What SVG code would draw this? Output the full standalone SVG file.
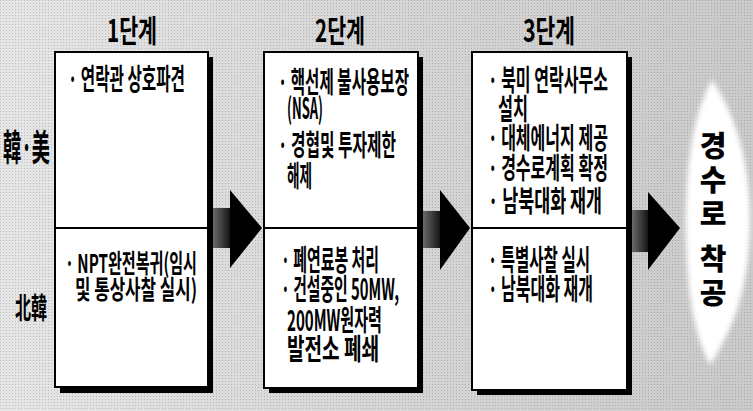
<svg xmlns="http://www.w3.org/2000/svg" width="753" height="411" viewBox="0 0 753 411">
<style>
.bg{fill:url(#bgGrad)}
.shadow{fill:#000}
.box{fill:#fff;stroke:#000;stroke-width:2}
.div{stroke:#000;stroke-width:2}
.t{font-family:"Noto Sans CJK KR","Liberation Sans",sans-serif;font-weight:700;fill:#000}
.s29{font-size:29px}
.s26{font-size:26px}
.ttl{font-size:31px}
.goal{font-family:"Noto Sans CJK KR","Liberation Sans",sans-serif;font-weight:900;font-size:29px;fill:#000;writing-mode:vertical-rl;letter-spacing:5px}
.arrowHead{fill:#000}
.arrowBody{fill:url(#bodyGrad)}
</style>
<defs>
<linearGradient id="bgGrad" x1="0" y1="0" x2="1" y2="0">
<stop offset="0" stop-color="#e6e6e6"/>
<stop offset="0.5" stop-color="#d6d6d6"/>
<stop offset="1" stop-color="#cacaca"/>
</linearGradient>
<linearGradient id="bodyGrad" x1="0" y1="0" x2="1" y2="0">
<stop offset="0" stop-color="#6a6a6a"/>
<stop offset="1" stop-color="#111"/>
</linearGradient>
<pattern id="dots" width="3" height="3" patternUnits="userSpaceOnUse">
<rect x="0" y="0" width="1" height="1" fill="#6a6a6a"/>
</pattern>
<filter id="soft" x="-20%" y="-10%" width="140%" height="120%">
<feGaussianBlur stdDeviation="2.5"/>
</filter>
</defs>
<rect class="bg" x="0" y="0" width="753" height="411"/>
<rect x="0" y="0" width="753" height="411" fill="url(#dots)" opacity="0.35"/>

<g id="goal">
<path d="M712,80 C734,112 750,160 750,220 C750,290 732,330 710,365 C692,330 686,285 686,220 C686,160 694,112 712,80 Z" fill="#fff" filter="url(#soft)"/>
<text class="goal" x="713" y="131">경수로 착공</text>
</g>

<g id="labels">
<text class="t" x="3" y="161" font-size="36" textLength="47" lengthAdjust="spacingAndGlyphs">韓·美</text>
<text class="t" x="15" y="319" font-size="29" textLength="32" lengthAdjust="spacingAndGlyphs">北韓</text>
</g>

<g id="stage1">
<text class="t ttl" x="107" y="42" textLength="50" lengthAdjust="spacingAndGlyphs">1단계</text>
<rect class="shadow" x="60" y="57" width="153" height="336"/>
<rect class="box" x="55" y="52" width="153" height="335"/>
<line class="div" x1="55" y1="228" x2="208" y2="228"/>
<text class="t s29" x="68" y="90" textLength="117" lengthAdjust="spacingAndGlyphs">· 연락관 상호파견</text>
<text class="t s26"><tspan x="65" y="273" textLength="132" lengthAdjust="spacingAndGlyphs">· NPT완전복귀(임시</tspan><tspan x="75" y="299" textLength="122" lengthAdjust="spacingAndGlyphs">및 통상사찰 실시)</tspan></text>
</g>

<g id="stage2">
<text class="t ttl" x="315" y="42" textLength="50" lengthAdjust="spacingAndGlyphs">2단계</text>
<rect class="shadow" x="269" y="57" width="154" height="336"/>
<rect class="box" x="264" y="52" width="154" height="336"/>
<line class="div" x1="264" y1="228" x2="418" y2="228"/>
<text class="t s29"><tspan x="278" y="93" textLength="131" lengthAdjust="spacingAndGlyphs">· 핵선제 불사용보장</tspan><tspan x="287" y="119" textLength="36" lengthAdjust="spacingAndGlyphs">(NSA)</tspan><tspan x="278" y="156" textLength="118" lengthAdjust="spacingAndGlyphs">· 경협및 투자제한</tspan><tspan x="287" y="187" textLength="25" lengthAdjust="spacingAndGlyphs">해제</tspan></text>
<text class="t s29"><tspan x="281" y="271" textLength="98" lengthAdjust="spacingAndGlyphs">· 폐연료봉 처리</tspan><tspan x="281" y="300" textLength="118" lengthAdjust="spacingAndGlyphs">· 건설중인 50MW,</tspan><tspan x="287" y="331" textLength="95" lengthAdjust="spacingAndGlyphs">200MW원자력</tspan><tspan x="287" y="360" textLength="92" lengthAdjust="spacingAndGlyphs">발전소 폐쇄</tspan></text>
</g>

<g id="stage3">
<text class="t ttl" x="523" y="42" textLength="52" lengthAdjust="spacingAndGlyphs">3단계</text>
<rect class="shadow" x="477" y="57" width="155" height="338"/>
<rect class="box" x="472" y="52" width="155" height="338"/>
<line class="div" x1="472" y1="228" x2="627" y2="228"/>
<text class="t s29"><tspan x="488" y="91" textLength="120" lengthAdjust="spacingAndGlyphs">· 북미 연락사무소</tspan><tspan x="498" y="120" textLength="30" lengthAdjust="spacingAndGlyphs">설치</tspan><tspan x="488" y="149" textLength="120" lengthAdjust="spacingAndGlyphs">· 대체에너지 제공</tspan><tspan x="488" y="179" textLength="120" lengthAdjust="spacingAndGlyphs">· 경수로계획 확정</tspan><tspan x="488" y="212" textLength="114" lengthAdjust="spacingAndGlyphs">· 남북대화 재개</tspan></text>
<text class="t s29"><tspan x="488" y="271" textLength="102" lengthAdjust="spacingAndGlyphs">· 특별사찰 실시</tspan><tspan x="488" y="300" textLength="105" lengthAdjust="spacingAndGlyphs">· 남북대화 재개</tspan></text>
</g>

<g id="connectors">
<rect class="arrowBody" x="213" y="208" width="18" height="40"/>
<polygon class="arrowHead" points="230,190 262,228 230,268"/>
<rect class="arrowBody" x="423" y="211" width="18" height="37"/>
<polygon class="arrowHead" points="440,190 470,228 440,270"/>
<rect class="arrowBody" x="632" y="210" width="17" height="42"/>
<polygon class="arrowHead" points="648,192 680,228 648,270"/>
</g>
</svg>
